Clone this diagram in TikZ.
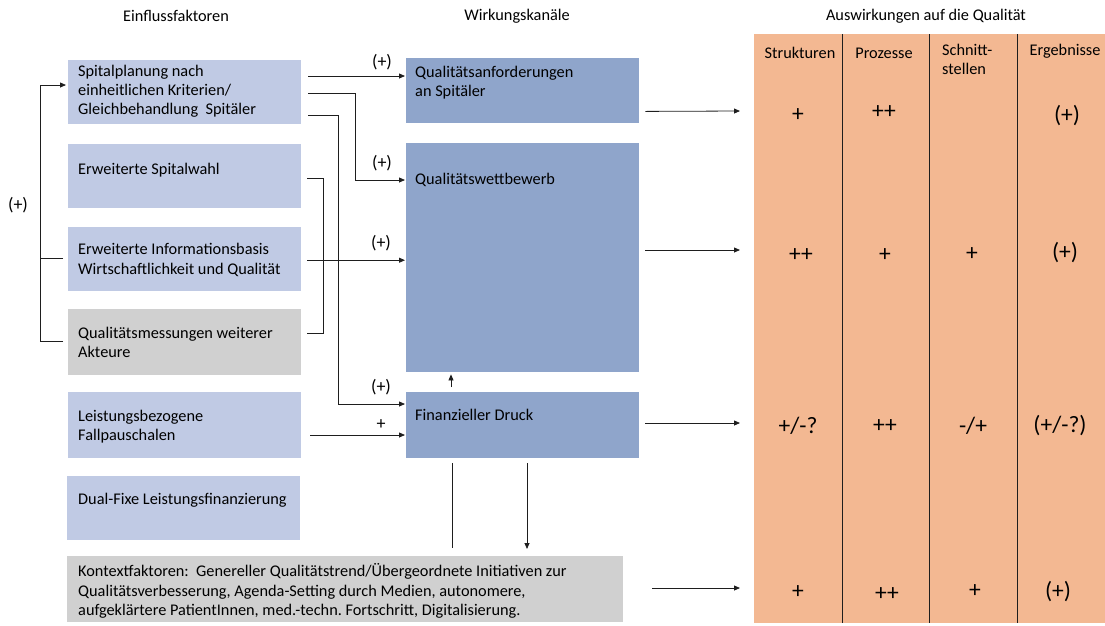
\documentclass[tikz,border=0pt]{standalone}
\usepackage{fontspec}
\setmainfont{Carlito}
\usetikzlibrary{arrows.meta,calc}
\definecolor{lblue}{RGB}{192,202,228}
\definecolor{mblue}{RGB}{143,165,203}
\definecolor{lgray}{RGB}{208,208,208}
\definecolor{orng}{RGB}{243,184,146}
\definecolor{linec}{RGB}{30,30,30}
\begin{document}
\begin{tikzpicture}[x=1pt,y=-1pt,
 box/.style={draw=none, inner sep=0, anchor=north west},
 txt/.style={inner sep=0, anchor=west, align=left, font=\fontsize{16.3}{19.2}\selectfont},
 hd/.style={inner sep=0, font=\fontsize{16.3}{19.2}\selectfont},
 lbl/.style={inner sep=0, font=\fontsize{18}{20}\selectfont},
 val/.style={inner sep=0, font=\fontsize{23.5}{25}\selectfont},
 conn/.style={draw=linec, line width=0.8pt},
 arr/.style={conn, -{Triangle[length=6pt,width=5pt]}},
 colline/.style={draw=linec, line width=0.8pt},
]
\useasboundingbox (0,0) rectangle (1105,625);

% headers
\node[hd] (h1) at (176,16) {Einflussfaktoren};
\node[hd] (h2) at (517,16) {Wirkungskanäle};
\node[hd] (h3) at (926,16) {Auswirkungen auf die Qualität};

% left boxes
\node[box, fill=lblue, minimum width=233, minimum height=64] (b1) at (68,60) {};
\node[box, fill=lblue, minimum width=233, minimum height=64] (b2) at (68,144) {};
\node[box, fill=lblue, minimum width=233, minimum height=64] (b3) at (68,227) {};
\node[box, fill=lgray, minimum width=233, minimum height=66] (b4) at (68,309) {};
\node[box, fill=lblue, minimum width=233, minimum height=66] (b5) at (68,392) {};
\node[box, fill=lblue, minimum width=233, minimum height=64] (b6) at (67,476) {};
\node[box, fill=lgray, minimum width=556, minimum height=66] (ctx) at (67,556) {};

% middle boxes
\node[box, fill=mblue, minimum width=233, minimum height=65] (qa) at (406,58) {};
\node[box, fill=mblue, minimum width=233, minimum height=229] (qw) at (406,143) {};
\node[box, fill=mblue, minimum width=233, minimum height=66] (fd) at (406,392) {};

% table
\node[box, fill=orng, minimum width=351, minimum height=589] (tab) at (754,34) {};
\draw[colline] ($(tab.north west)+(88,0)$) -- ($(tab.south west)+(88,0)$);
\draw[colline] ($(tab.north west)+(175,0)$) -- ($(tab.south west)+(175,0)$);
\draw[colline] ($(tab.north west)+(263,0)$) -- ($(tab.south west)+(263,0)$);

% texts left
\node[txt] (t1) at (78,91) {Spitalplanung nach\\einheitlichen Kriterien/\\Gleichbehandlung\ \ Spitäler};
\node[txt] (t2) at (78,170) {Erweiterte Spitalwahl};
\node[txt] (t3) at (78,260) {Erweiterte Informationsbasis\\Wirtschaftlichkeit und Qualität};
\node[txt] (t4) at (78,342) {Qualitätsmessungen weiterer\\Akteure};
\node[txt] (t5) at (78,427) {Leistungsbezogene\\Fallpauschalen};
\node[txt] (t6) at (78,500) {Dual-Fixe Leistungsfinanzierung};
\node[txt] (t7) at (78,591) {Kontextfaktoren:\ \ Genereller Qualitätstrend/Übergeordnete Initiativen zur\\Qualitätsverbesserung, Agenda-Setting durch\ Medien, autonomere,\\aufgeklärtere PatientInnen,\ med.-techn.\ Fortschritt, Digitalisierung.};

% texts middle
\node[txt] (t8) at (415,83) {Qualitätsanforderungen\\an Spitäler};
\node[txt] (t9) at (415,180) {Qualitätswettbewerb};
\node[txt] (t10) at (415,415) {Finanzieller Druck};

% table headers
\node[hd] (c1) at (800,53) {Strukturen};
\node[hd] (c2) at (884,53) {Prozesse};
\node[hd, anchor=north west, align=left] (c3) at (942,44) {Schnitt-\\stellen};
\node[hd] (c4) at (1065,51) {Ergebnisse};

% values
\node[val] (v11) at (798,115) {+};
\node[val] (v12) at (884,112) {++};
\node[val] (v14) at (1067,116) {(+)};
\node[val] (v21) at (801,255) {++};
\node[val] (v22) at (885,255) {+};
\node[val] (v23) at (972,254) {+};
\node[val] (v24) at (1065,253) {(+)};
\node[val] (v31) at (798,426) {+/-?};
\node[val] (v32) at (885,426) {++};
\node[val] (v33) at (973,426) {-/+};
\node[val] (v34) at (1060,426) {(+/-?)};
\node[val] (v41) at (798,592) {+};
\node[val] (v42) at (887,594) {++};
\node[val] (v43) at (975,591) {+};
\node[val] (v44) at (1058,592) {(+)};

% left connectors
\draw[arr] ($(b1.north east)+(7,16)$) -- ($(qa.north west)+(-1,18)$);
\node[lbl] (l1) at (382,62) {(+)};
\draw[arr] ($(b1.north east)+(7,33)$) -- ++(47,0) |- ($(qw.north west)+(-1,37)$);
\node[lbl] (l2) at (382,163) {(+)};
\draw[arr] ($(b1.north east)+(7,55)$) -- ++(30,0) |- ($(fd.north west)+(-1,12)$);
\node[lbl] (l3) at (381,387) {(+)};
\draw[conn] ($(b2.north east)+(6,34)$) -- ++(16,0) |- ($(b4.north east)+(6,24)$);
\draw[arr] ($(b3.east)+(6,1)$) -- ($(qw.west |- b3.east)+(-1,1)$);
\node[lbl] (l4) at (381,243) {(+)};
\draw[arr] ($(b5.north east)+(9,43)$) -- ($(fd.north west)+(-1,43)$);
\node[lbl] (l5) at (381,425) {+};

% left bracket
\draw[arr] ($(b4.north west)+(-5,32)$) -- ++(-23,0) |- ($(b1.north west)+(-2,25)$);
\draw[conn] ($(b3.north west)+(-5,31)$) -- ++(-23,0);
\node[lbl] (l6) at (18,205) {(+)};

% middle vertical connectors
\draw[arr] ($(fd.north west)+(45,-5)$) -- ($(qw.south west)+(45,2)$);
\draw[conn] ($(fd.south west)+(46,5)$) -- ($(ctx.north west)+(385,-8)$);
\draw[arr] ($(fd.south west)+(121,5)$) -- ($(ctx.north west)+(460,-7)$);

% right arrows
\draw[arr] ($(qa.south east)+(6,-12)$) -- ($(tab.north west)+(-14,77)$);
\draw[arr] ($(qw.north east)+(6,107)$) -- ($(tab.north west)+(-14,216)$);
\draw[arr] ($(fd.north east)+(6,31)$) -- ($(tab.north west)+(-14,389)$);
\draw[arr] ($(ctx.north east)+(29,32)$) -- ($(tab.north west)+(-14,554)$);
\end{tikzpicture}
\end{document}
